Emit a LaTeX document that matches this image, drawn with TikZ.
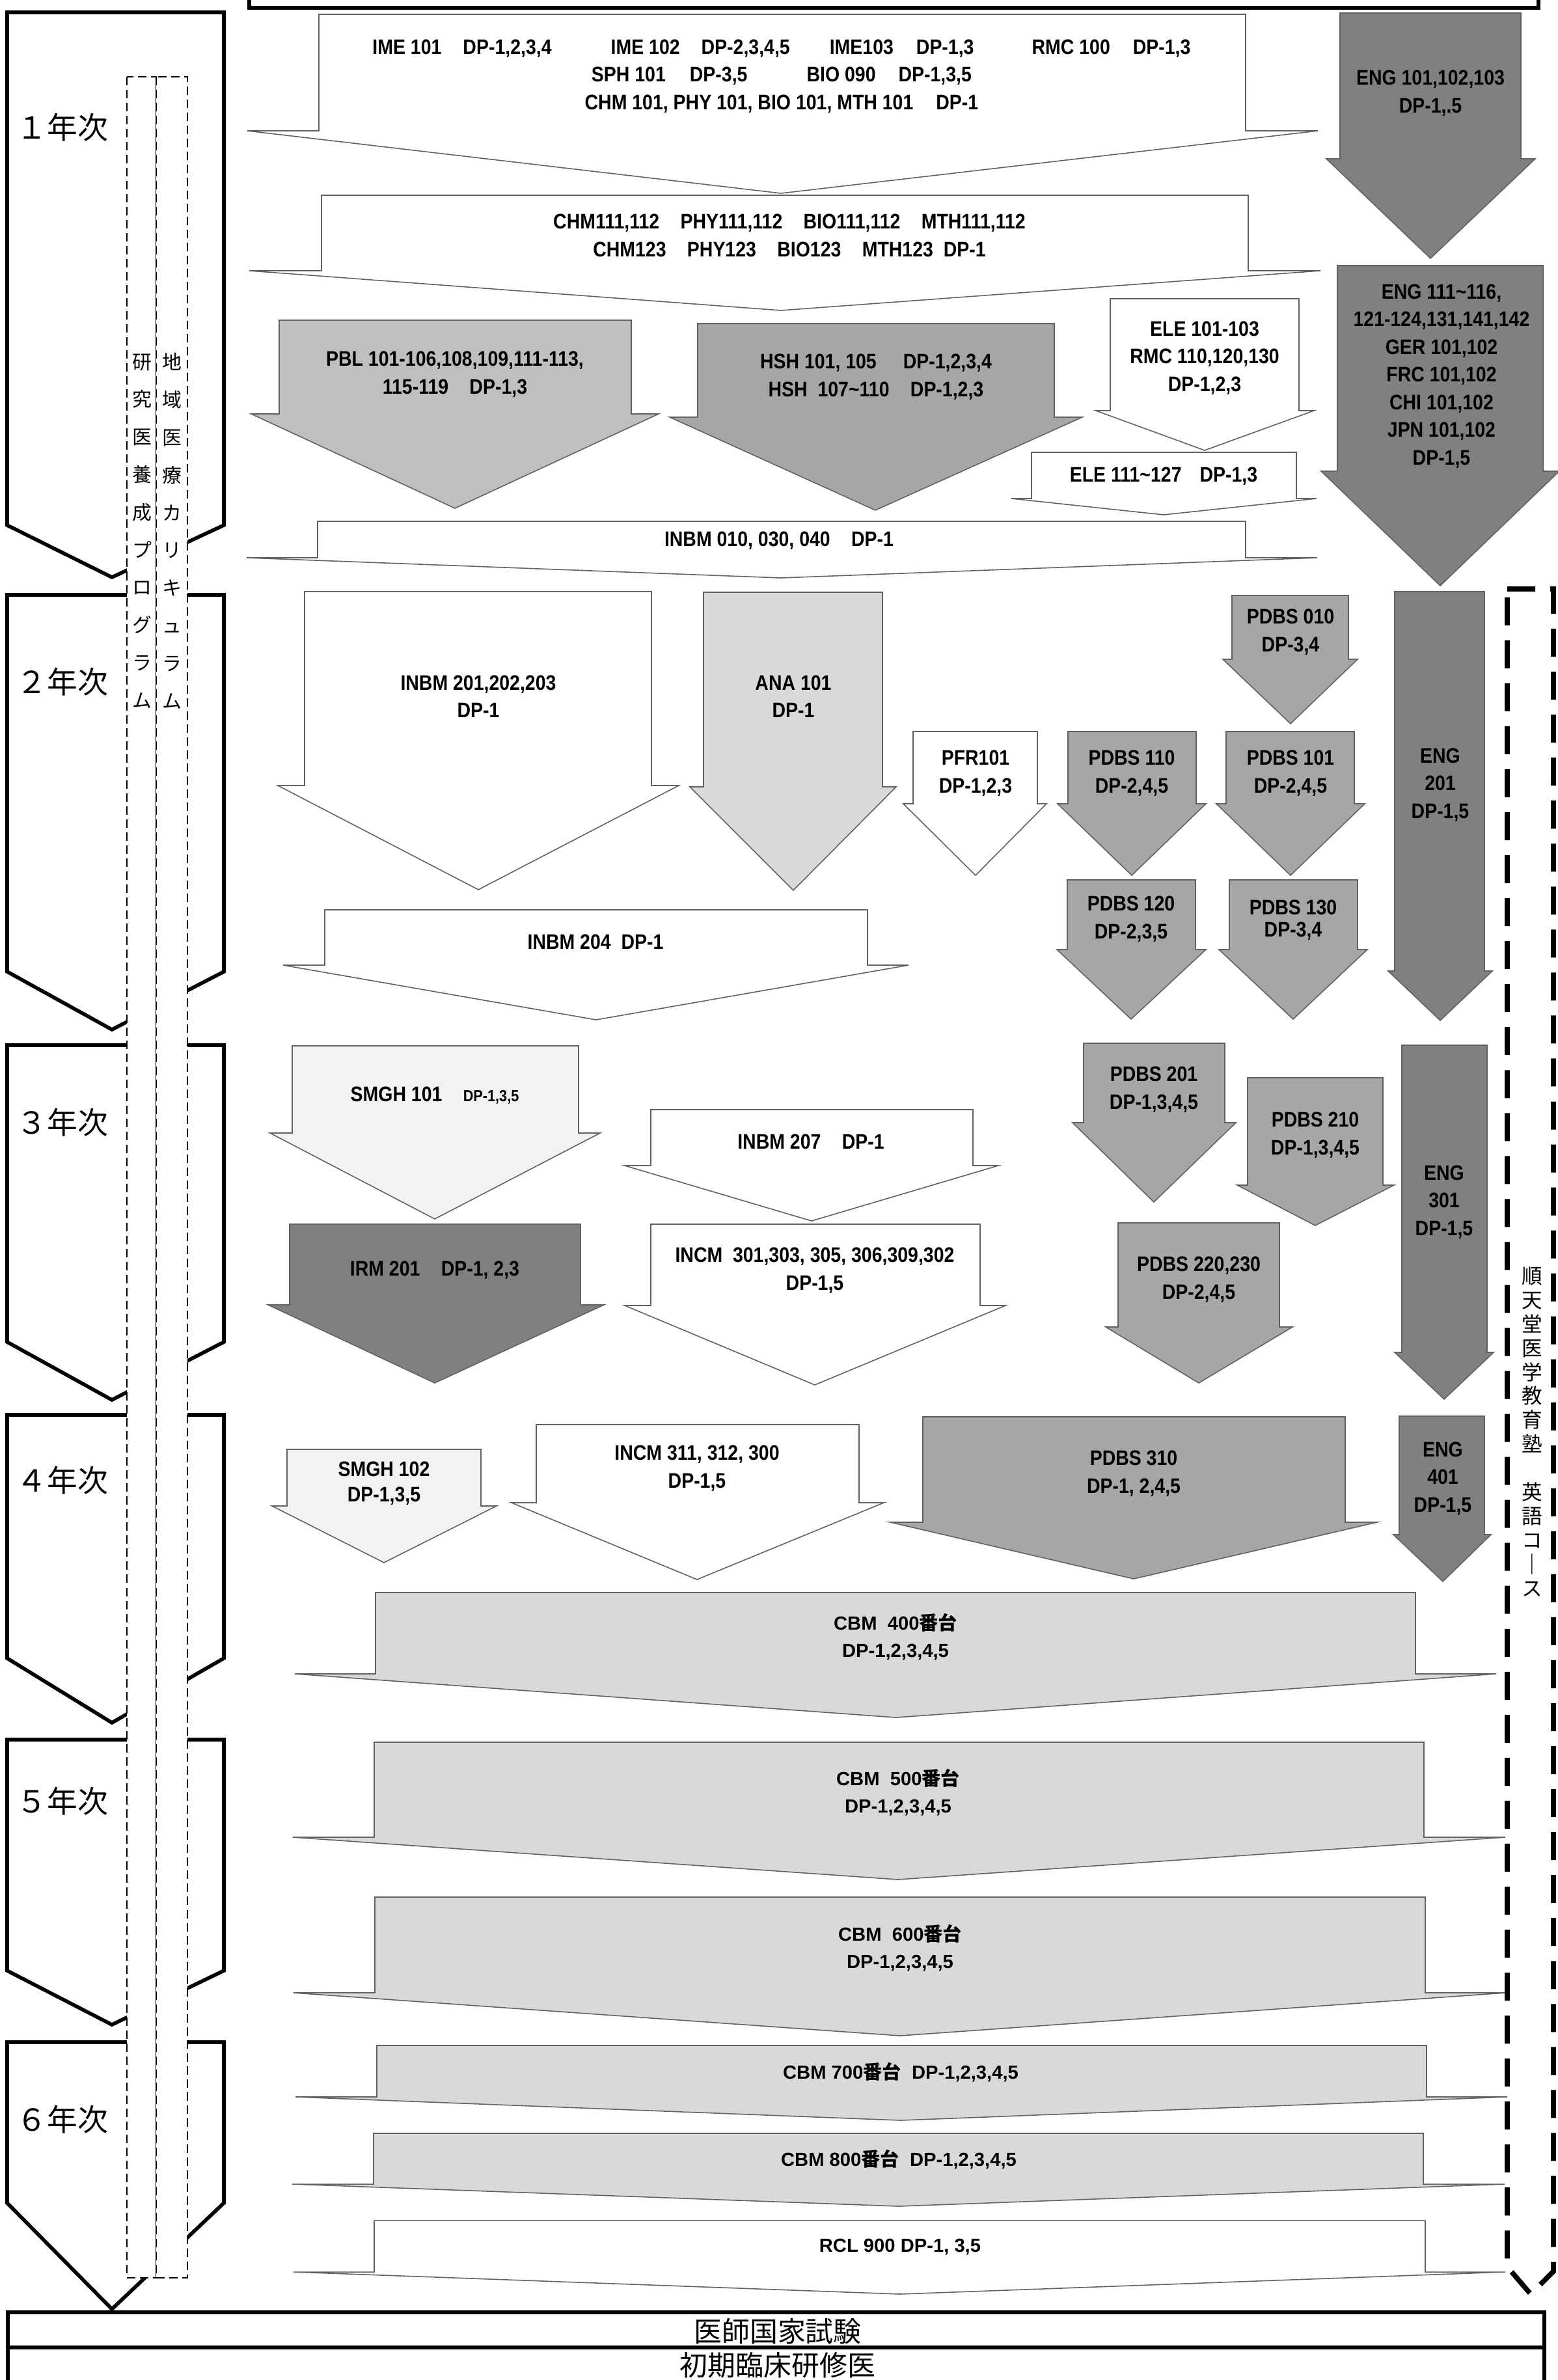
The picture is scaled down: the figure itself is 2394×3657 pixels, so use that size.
\documentclass[tikz,border=0pt]{standalone}
\usepackage{fontspec}
\setmainfont{Liberation Sans}
\newfontfamily\narrowfont[FakeStretch=0.88]{Liberation Sans}
\newfontfamily\jpfont{Noto Sans CJK JP}
\newcommand\ban[1]{{\jpfont\bfseries #1}}
\definecolor{gF2}{HTML}{F2F2F2}
\definecolor{gD9}{HTML}{D9D9D9}
\definecolor{gBF}{HTML}{BFBFBF}
\definecolor{gA6}{HTML}{A6A6A6}
\definecolor{g80}{HTML}{808080}
% block arrow: style, body left/right, top, neck, head left/right, tip x, tip y
\newcommand\barrow[9]{\draw[#1] (#2,#4) -- (#3,#4) -- (#3,#5) -- (#7,#5) -- (#8,#9) -- (#6,#5) -- (#2,#5) -- cycle;}

\begin{document}
\begin{tikzpicture}[
  x=0.01cm, y=-0.01cm,
  yearbox/.style={draw=black, line width=1.6pt, fill=white},
  column/.style={draw=black, line width=0.8pt, dash pattern=on 0.13cm off 0.07cm, fill=white},
  course/.style={draw=black, line width=2.2pt, dash pattern=on 0.43cm off 0.23cm},
  blk/.style={draw=black!62, line width=0.45pt},
  wt/.style={blk, fill=white},
  lt/.style={blk, fill=gF2},
  md/.style={blk, fill=gD9},
  mg/.style={blk, fill=gBF},
  dk/.style={blk, fill=gA6},
  dd/.style={blk, fill=g80},
  lbl/.style={font=\narrowfont\bfseries\fontsize{9.2}{12.1}\selectfont, align=center, inner sep=0pt},
  lblw/.style={font=\bfseries\fontsize{8.3}{12.1}\selectfont, align=center, inner sep=0pt},
  year/.style={font=\jpfont\fontsize{13.3}{15}\selectfont, inner sep=0pt},
  vtext/.style={font=\jpfont\fontsize{8.5}{16.44}\selectfont, align=center, inner sep=0pt},
  exam/.style={font=\jpfont\fontsize{12.2}{14}\selectfont, inner sep=0pt}
]
\useasboundingbox (0,0) rectangle (2394,3657);

% ---------- top frame ----------
\draw[line width=1.6pt] (383,-20) -- (383,12) -- (2364,12) -- (2364,-20);

% ---------- year boxes ----------
\draw[yearbox] (11,19) -- (344,19) -- (344,807) -- (172,887) -- (11,807) -- cycle;
\draw[yearbox] (11,914) -- (344,914) -- (344,1493) -- (172,1582) -- (11,1493) -- cycle;
\draw[yearbox] (11,1606) -- (344,1606) -- (344,2062) -- (172,2151) -- (11,2062) -- cycle;
\draw[yearbox] (11,2174) -- (344,2174) -- (344,2548) -- (172,2647) -- (11,2548) -- cycle;
\draw[yearbox] (11,2673) -- (344,2673) -- (344,3028) -- (172,3111) -- (11,3028) -- cycle;
\draw[yearbox] (11,3138) -- (344,3138) -- (344,3385) -- (172,3548) -- (11,3385) -- cycle;
\node[year] (y1) at (96,196) {１年次};
\node[year] (y2) at (96,1048) {２年次};
\node[year] (y3) at (96,1725) {３年次};
\node[year] (y4) at (96,2275) {４年次};
\node[year] (y5) at (96,2768) {５年次};
\node[year] (y6) at (96,3257) {６年次};

% ---------- program columns ----------
\draw[column] (195,118) rectangle (240,3500);
\draw[column] (240,118) rectangle (288,3500);
\node[vtext] (kenkyu) at (218,816) {研\\究\\医\\養\\成\\プ\\ロ\\グ\\ラ\\ム};
\node[vtext] (chiiki) at (264,816) {地\\域\\医\\療\\カ\\リ\\キ\\ュ\\ラ\\ム};

% ---------- 1年次 ----------
\barrow{wt}{490}{1914}{22}{201}{380}{2025}{1200}{297}
\node[lbl] (ime) at (1201,117) {IME 101\hspace{0.33cm}DP-1,2,3,4\hspace{0.91cm}IME 102\hspace{0.33cm}DP-2,3,4,5\hspace{0.61cm}IME103\hspace{0.35cm}DP-1,3\hspace{0.89cm}RMC 100\hspace{0.35cm}DP-1,3\\
SPH 101\hspace{0.37cm}DP-3,5\hspace{0.91cm}BIO 090\hspace{0.35cm}DP-1,3,5\\
CHM 101, PHY 101, BIO 101, MTH 101\hspace{0.35cm}DP-1};
\barrow{wt}{494}{1918}{300}{416}{383}{2029}{1200}{477}
\node[lbl] (chm) at (1213,362) {CHM111,112\quad PHY111,112\quad BIO111,112\quad MTH111,112\\
CHM123\quad PHY123\quad BIO123\quad MTH123\ \ DP-1};
\barrow{mg}{429}{970}{492}{636}{386}{1012}{699}{781}
\node[lbl] (pbl) at (699,575) {PBL 101-106,108,109,111-113,\\115-119\quad DP-1,3};
\barrow{dk}{1072}{1620}{497}{641}{1029}{1663}{1345}{784}
\node[lbl] (hsh) at (1346,579) {HSH 101, 105\hspace{0.41cm}DP-1,2,3,4\\HSH\ \ 107\textasciitilde110\quad DP-1,2,3};
\barrow{wt}{1706}{1996}{459}{631}{1684}{2019}{1851}{692}
\node[lbl] (ele) at (1851,550) {ELE 101-103\\RMC 110,120,130\\DP-1,2,3};
\barrow{wt}{1585}{1992}{695}{766}{1554}{2023}{1788}{791}
\node[lbl] (eleb) at (1788,732) {ELE 111\textasciitilde127\hspace{0.28cm}DP-1,3};
\barrow{dd}{2059}{2337}{20}{244}{2038}{2359}{2198}{397}
\node[lbl] (enga) at (2198,143) {ENG 101,102,103\\DP-1,.5};
\barrow{dd}{2055}{2371}{408}{724}{2030}{2396}{2213}{900}
\node[lbl] (engb) at (2215,578) {ENG 111\textasciitilde116,\\121-124,131,141,142\\GER 101,102\\FRC 101,102\\CHI 101,102\\JPN 101,102\\DP-1,5};
\barrow{wt}{488}{1914}{801}{857}{379}{2024}{1200}{888}
\node[lbl] (inbma) at (1197,831) {INBM 010, 030, 040\quad DP-1};

% ---------- 2年次 ----------
\barrow{wt}{468}{1001}{909}{1207}{427}{1043}{735}{1367}
\node[lbl] (inbmb) at (735,1070) {INBM 201,202,203\\DP-1};
\barrow{md}{1081}{1356}{910}{1209}{1060}{1377}{1219}{1368}
\node[lbl] (ana) at (1219,1070) {ANA 101\\DP-1};
\barrow{wt}{1403}{1594}{1124}{1235}{1388}{1608}{1499}{1345}
\node[lbl] (pfr) at (1499,1188) {PFR101\\DP-1,2,3};
\barrow{dk}{1893}{2072}{915}{1013}{1879}{2086}{1983}{1112}
\node[lbl] (pdbsa) at (1983,971) {PDBS 010\\DP-3,4};
\barrow{dk}{1641}{1838}{1124}{1235}{1625}{1853}{1739}{1345}
\node[lbl] (pdbsb) at (1739,1188) {PDBS 110\\DP-2,4,5};
\barrow{dk}{1884}{2081}{1124}{1235}{1869}{2097}{1983}{1345}
\node[lbl] (pdbsc) at (1983,1188) {PDBS 101\\DP-2,4,5};
\barrow{dk}{1640}{1837}{1352}{1459}{1624}{1853}{1738}{1566}
\node[lbl] (pdbsd) at (1738,1412) {PDBS 120\\DP-2,3,5};
\barrow{dk}{1889}{2086}{1352}{1459}{1873}{2101}{1987}{1566}
\node[lbl] (pdbse) at (1987,1414) {PDBS 130\\[-2.5pt]DP-3,4};
\barrow{dd}{2143}{2281}{909}{1492}{2133}{2293}{2213}{1568}
\node[lbl] (engc) at (2213,1206) {ENG\\201\\DP-1,5};
\barrow{wt}{499}{1333}{1398}{1483}{435}{1396}{916}{1567}
\node[lbl] (inbmc) at (915,1447) {INBM 204\ \ DP-1};

% ---------- 3年次 ----------
\barrow{lt}{449}{889}{1607}{1741}{415}{922}{668}{1873}
\node[lbl] (smgha) at (668,1683) {SMGH 101\quad{\fontsize{7}{8}\selectfont DP-1,3,5}};
\barrow{dd}{445}{892}{1881}{2005}{412}{928}{668}{2125}
\node[lbl] (irm) at (668,1952) {IRM 201\quad DP-1, 2,3};
\barrow{wt}{1000}{1495}{1705}{1791}{960}{1534}{1247}{1876}
\node[lbl] (inbmd) at (1246,1754) {INBM 207\quad DP-1};
\barrow{wt}{1000}{1506}{1881}{2006}{960}{1545}{1252}{2128}
\node[lbl] (incma) at (1252,1952) {INCM\ \ 301,303, 305, 306,309,302\\DP-1,5};
\barrow{dk}{1665}{1882}{1603}{1725}{1648}{1899}{1773}{1847}
\node[lbl] (pdbsf) at (1773,1674) {PDBS 201\\DP-1,3,4,5};
\barrow{dk}{1917}{2125}{1656}{1821}{1901}{2142}{2021}{1883}
\node[lbl] (pdbsg) at (2021,1744) {PDBS 210\\DP-1,3,4,5};
\barrow{dk}{1718}{1966}{1879}{2039}{1699}{1986}{1842}{2125}
\node[lbl] (pdbsh) at (1842,1966) {PDBS 220,230\\DP-2,4,5};
\barrow{dd}{2154}{2285}{1606}{2078}{2143}{2295}{2219}{2150}
\node[lbl] (engd) at (2219,1847) {ENG\\301\\DP-1,5};

% ---------- 4年次 ----------
\barrow{lt}{441}{739}{2227}{2314}{418}{763}{590}{2401}
\node[lbl] (smghb) at (590,2279) {SMGH 102\\[-1pt]DP-1,3,5};
\barrow{wt}{824}{1320}{2189}{2309}{786}{1358}{1071}{2427}
\node[lbl] (incmb) at (1071,2256) {INCM 311, 312, 300\\DP-1,5};
\barrow{dk}{1418}{2067}{2177}{2339}{1368}{2116}{1742}{2426}
\node[lbl] (pdbsi) at (1742,2264) {PDBS 310\\DP-1, 2,4,5};
\barrow{dd}{2150}{2281}{2176}{2358}{2141}{2291}{2217}{2430}
\node[lbl] (enge) at (2217,2272) {ENG\\401\\DP-1,5};
\barrow{md}{577}{2175}{2447}{2572}{453}{2299}{1377}{2639}
\node[lblw] (cbma) at (1376,2515) {CBM\ \ 400\ban{番台}\\DP-1,2,3,4,5};

% ---------- 5年次 ----------
\barrow{md}{575}{2188}{2677}{2823}{450}{2313}{1380}{2888}
\node[lblw] (cbmb) at (1380,2754) {CBM\ \ 500\ban{番台}\\DP-1,2,3,4,5};
\barrow{md}{576}{2190}{2915}{3062}{451}{2314}{1383}{3128}
\node[lblw] (cbmc) at (1383,2993) {CBM\ \ 600\ban{番台}\\DP-1,2,3,4,5};

% ---------- 6年次 ----------
\barrow{md}{579}{2192}{3143}{3222}{454}{2316}{1384}{3258}
\node[lblw] (cbmd) at (1384,3184) {CBM 700\ban{番台}\ \ DP-1,2,3,4,5};
\barrow{md}{574}{2187}{3278}{3356}{449}{2312}{1381}{3390}
\node[lblw] (cbme) at (1381,3318) {CBM 800\ban{番台}\ \ DP-1,2,3,4,5};
\barrow{wt}{575}{2190}{3412}{3491}{451}{2313}{1383}{3525}
\node[lblw] (rcl) at (1383,3453) {RCL 900 DP-1, 3,5};

% ---------- English course ----------
\draw[course] (2316,905) -- (2387,905) -- (2387,3490) -- (2352,3525) -- (2316,3483) -- cycle;
\node[vtext, font=\jpfont\fontsize{9}{10.5}\selectfont] (juku) at (2354,2200)
  {順\\天\\堂\\医\\学\\教\\育\\塾\\\mbox{}\\英\\語\\コ\\｜\\ス};

% ---------- exam / residency ----------
\draw[line width=1.6pt] (12,3553) rectangle (2373,3607);
\draw[line width=1.6pt] (12,3607) rectangle (2373,3662);
\node[exam] (exam) at (1195,3582) {医師国家試験};
\node[exam] (resid) at (1195,3634) {初期臨床研修医};

\end{tikzpicture}
\end{document}
